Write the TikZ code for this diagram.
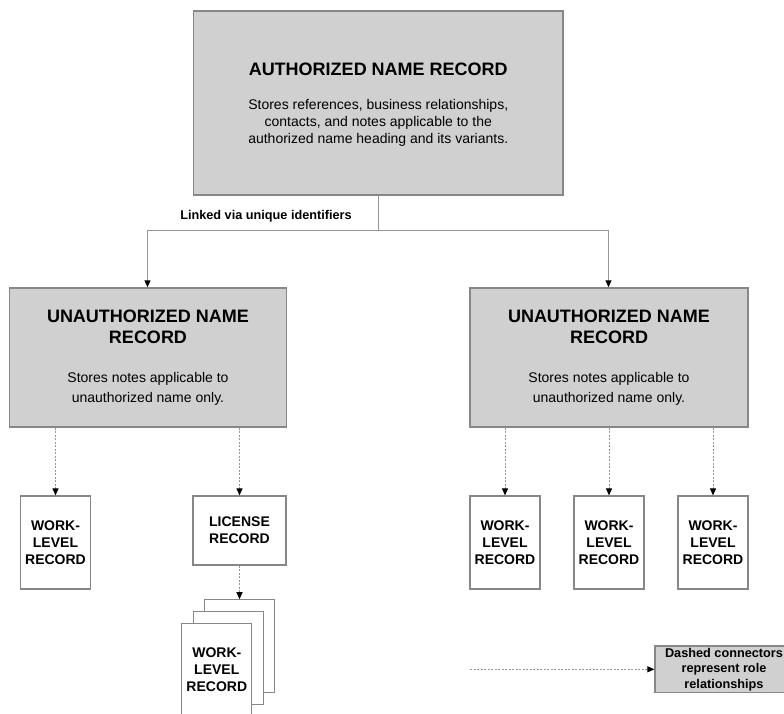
\documentclass[tikz,border=0pt]{standalone}
\usepackage{fontspec}
\setmainfont{Liberation Sans}
\usetikzlibrary{arrows.meta}
\definecolor{boxfill}{RGB}{208,208,208}
\definecolor{boxline}{RGB}{135,135,135}
\definecolor{conline}{RGB}{150,150,150}
\begin{document}
\begin{tikzpicture}[x=1pt,y=-1pt,
  graybox/.style={draw=boxline,line width=1.5pt,fill=boxfill,inner sep=0pt,anchor=center},
  whitebox/.style={draw=boxline,line width=1.2pt,fill=white,inner sep=0pt,anchor=center,minimum width=70pt,minimum height=93pt},
  title/.style={font=\fontsize{18}{21}\selectfont\bfseries,align=center,inner sep=0pt},
  body/.style={font=\fontsize{14}{16.7}\selectfont,align=center,inner sep=0pt},
  small/.style={font=\fontsize{14}{16.7}\selectfont\bfseries,align=center,inner sep=0pt},
  conn/.style={draw=conline,line width=1pt,-{Triangle[width=6pt,length=7pt,color=black]}},
  role/.style={draw=conline,line width=1pt,dash pattern=on 2pt off 1.5pt,-{Triangle[width=6pt,length=7pt,color=black]}},
  plain/.style={draw=conline,line width=1pt}]
\useasboundingbox (0,0) rectangle (784,713);
\begin{scope}
\clip (0,0) rectangle (784,713);
% top box
\node[graybox,minimum width=369.5pt,minimum height=184pt] (auth) at (378.25,103) {};
\node[title] (authT) at (378.25,69) {AUTHORIZED NAME RECORD};
\node[body] (authB) at (378.25,122.7) {Stores references, business relationships,\\contacts, and notes applicable to the\\authorized name heading and its variants.};
% lower gray boxes
\node[graybox,minimum width=277pt,minimum height=139pt] (unL) at (148,357.5) {};
\node[title] (unLT) at (148,327.2) {UNAUTHORIZED NAME\\RECORD};
\node[body,font=\fontsize{14}{20}\selectfont] (unLB) at (148,389.3) {Stores notes applicable to\\unauthorized name only.};
\node[graybox,minimum width=278pt,minimum height=139pt] (unR) at (609,357.5) {};
\node[title] (unRT) at (609,327.2) {UNAUTHORIZED NAME\\RECORD};
\node[body,font=\fontsize{14}{20}\selectfont] (unRB) at (609,389.3) {Stores notes applicable to\\unauthorized name only.};
% link
\coordinate (jn) at (378.5,230);
\coordinate (jl) at (147.5,230);
\coordinate (jr) at (608.5,230);
\draw[plain] (auth.south -| jn) -- (jn);
\draw[plain] (jl) -- (jr);
\draw[conn] (jl) -- (jl |- unL.north);
\draw[conn] (jr) -- (jr |- unR.north);
\node[small,font=\fontsize{12.7}{15}\selectfont\bfseries] (link) at (266,216) {Linked via unique identifiers};
% work boxes
\node[whitebox] (wl1) at (55.5,542.5) {};
\node[small] at (wl1) {WORK-\\LEVEL\\RECORD};
\node[whitebox,minimum width=93pt,minimum height=69pt] (lic) at (239.5,530.5) {};
\node[small] at (lic) {LICENSE\\RECORD};
\node[whitebox] (wr1) at (505,542.5) {};
\node[small] at (wr1) {WORK-\\LEVEL\\RECORD};
\node[whitebox] (wr2) at (609,542.5) {};
\node[small] at (wr2) {WORK-\\LEVEL\\RECORD};
\node[whitebox] (wr3) at (713,542.5) {};
\node[small] at (wr3) {WORK-\\LEVEL\\RECORD};
% stack
\node[whitebox] (st3) at (239.8,646.3) {};
\node[whitebox] (st2) at (228.3,657.7) {};
\node[whitebox] (st1) at (216.8,669.7) {};
\node[small] (st1T) at (216.8,669.5) {WORK-\\LEVEL\\RECORD};
% dashed role connectors
\draw[role] (unL.south -| wl1) -- (wl1.north);
\draw[role] (unL.south -| lic) -- (lic.north);
\draw[role] (lic.south) -- (lic.south |- st3.north);
\draw[role] (unR.south -| wr1) -- (wr1.north);
\draw[role] (unR.south -| wr2) -- (wr2.north);
\draw[role] (unR.south -| wr3) -- (wr3.north);
% legend
\node[graybox,line width=1.2pt,minimum width=138pt,minimum height=46.7pt] (leg) at (724,669.3) {};
\node[small,font=\fontsize{12.7}{15.5}\selectfont\bfseries] (legT) at (724,669.3) {Dashed connectors\\represent role\\relationships};
\coordinate (legS) at (470,669.3);
\draw[role] (legS) -- (leg.west);
\end{scope}
\end{tikzpicture}
\end{document}
